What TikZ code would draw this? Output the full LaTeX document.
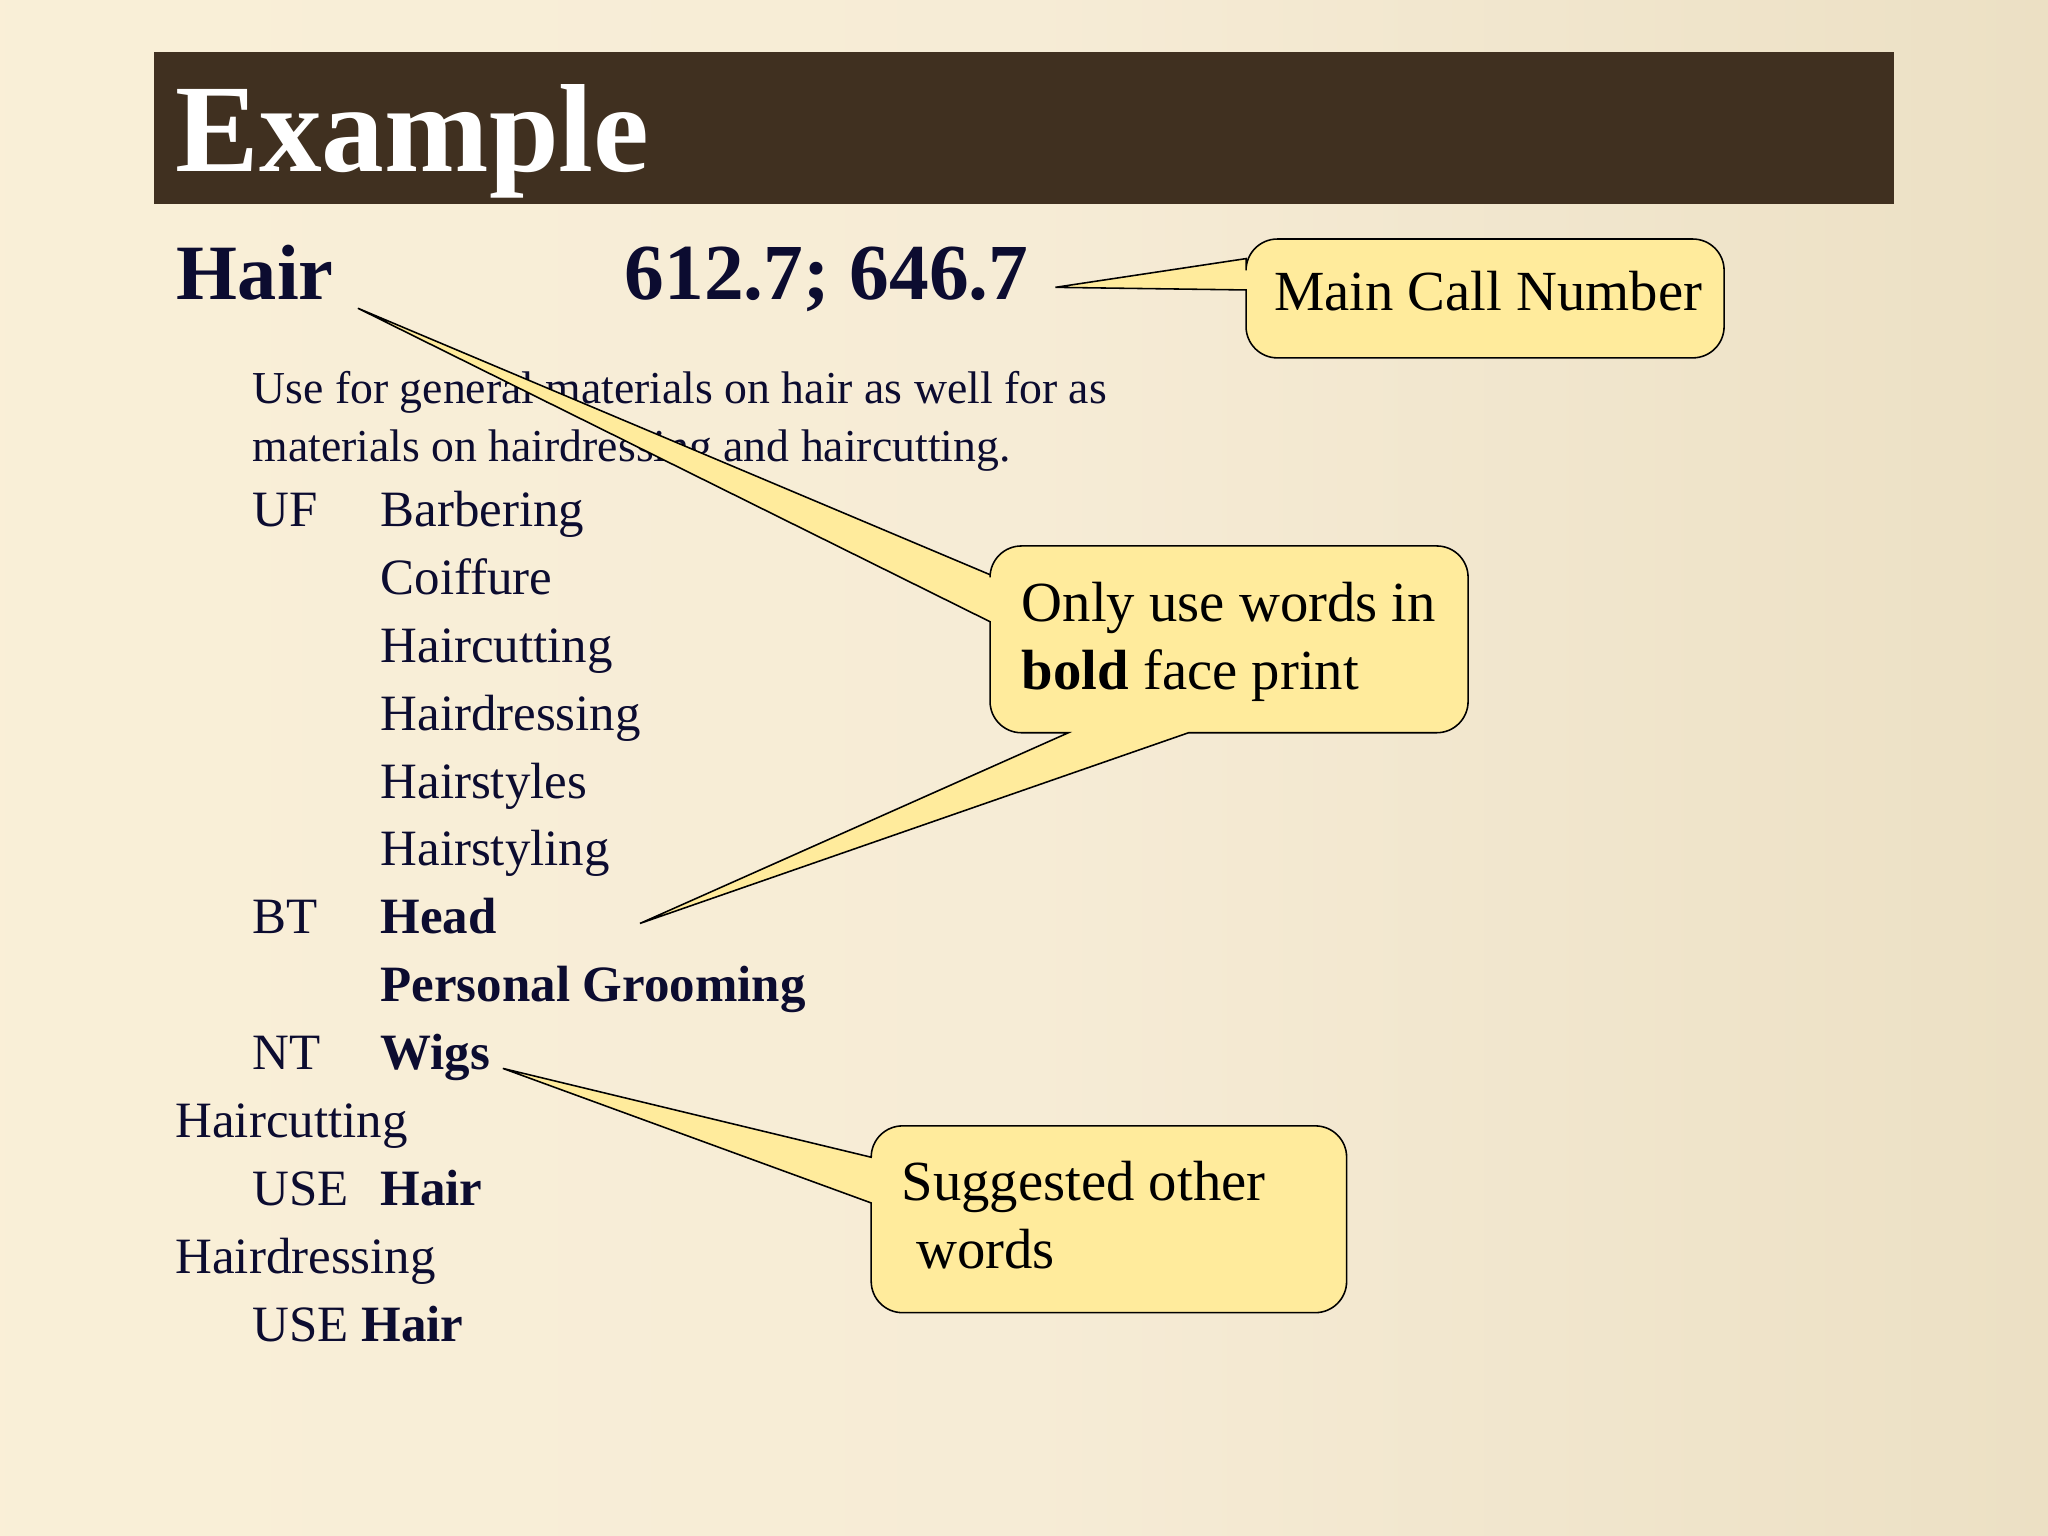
\documentclass[tikz,border=0pt]{standalone}
\usepackage{fontspec}
\setmainfont{Liberation Serif}
\definecolor{bar}{HTML}{403020}
\definecolor{ink}{HTML}{0C0C30}
\definecolor{callout}{HTML}{FFEB9C}
\pgfdeclarehorizontalshading{bgshade}{100bp}{
  rgb(0bp)=(0.992,0.953,0.851);
  rgb(50bp)=(0.965,0.925,0.839);
  rgb(75bp)=(0.925,0.878,0.769);
  rgb(100bp)=(0.824,0.761,0.612)}
\begin{document}
\begin{tikzpicture}[x=0.5pt,y=-0.5pt,
  txt/.style={anchor=base west,inner sep=0,text=ink,font=\fontsize{19.5}{22}\selectfont},
  btxt/.style={txt,font=\fontsize{19.5}{22}\selectfont\bfseries},
  desc/.style={txt,font=\fontsize{17.5}{20}\selectfont},
  co/.style={anchor=base west,inner sep=0,text=black,font=\fontsize{21.7}{25}\selectfont},
  cobox/.style={fill=callout,draw=black,line width=0.6pt}]
\shade[shading=bgshade] (0,0) rectangle (1568,1176);
\useasboundingbox (0,0) rectangle (1568,1176);
\fill[bar] (118,40) rectangle (1450,156);
\node[anchor=base west,inner sep=0,text=white,font=\fontsize{48}{52}\selectfont\bfseries] (title) at (134,131) {Example};
\node[txt,font=\fontsize{30}{34}\selectfont\bfseries] (hair) at (135,229) {Hair};
\node[txt,font=\fontsize{30.4}{34}\selectfont\bfseries] (num) at (478,229) {612.7; 646.7};
% callouts
\path[cobox] (954,222) -- (808,220) -- (954,198) [rounded corners=12] -- (954,183) -- (1320,183) -- (1320,274) -- (954,274) [sharp corners] -- cycle;
\node[co] (c1) at (975,238) {Main Call Number};
\node[desc] (d1) at (193,309) {Use for general materials on hair as well for as};
\node[desc] (d2) at (193,353) {materials on hairdressing and haircutting.};
\path[cobox] (758,476) -- (274,236) -- (758,440) [rounded corners=12] -- (758,418) -- (1124,418) -- (1124,561) [sharp corners] -- (910,561) -- (490,707) -- (818,561) [rounded corners=12] -- (758,561) [sharp corners] -- cycle;
\node[co] (c2a) at (782,476) {Only use words in};
\node[co] (c2b) at (782,528) {\textbf{bold} face print};
\path[cobox] (667,921) -- (385,818) -- (667,886) [rounded corners=12] -- (667,862) -- (1031,862) -- (1031,1005) -- (667,1005) [sharp corners] -- cycle;
\node[co] (c3a) at (690,919) {Suggested other};
\node[co] (c3b) at (701,971) {words};
% list
\node[txt] (uf) at (193,403) {UF};
\node[txt] (w1) at (291,403) {Barbering};
\node[txt] (w2) at (291,455) {Coiffure};
\node[txt] (w3) at (291,507) {Haircutting};
\node[txt] (w4) at (291,559) {Hairdressing};
\node[txt] (w5) at (291,611) {Hairstyles};
\node[txt] (w6) at (291,663) {Hairstyling};
\node[txt] (bt) at (193,715) {BT};
\node[btxt] (w7) at (291,715) {Head};
\node[btxt] (w8) at (291,767) {Personal Grooming};
\node[txt] (nt) at (193,819) {NT};
\node[btxt] (w9) at (291,819) {Wigs};
\node[txt] (h2) at (134,871) {Haircutting};
\node[txt] (u1) at (193,923) {USE};
\node[btxt] (u1h) at (291,923) {Hair};
\node[txt] (h3) at (134,975) {Hairdressing};
\node[txt] (u2) at (193,1027) {USE \textbf{Hair}};
\end{tikzpicture}
\end{document}
